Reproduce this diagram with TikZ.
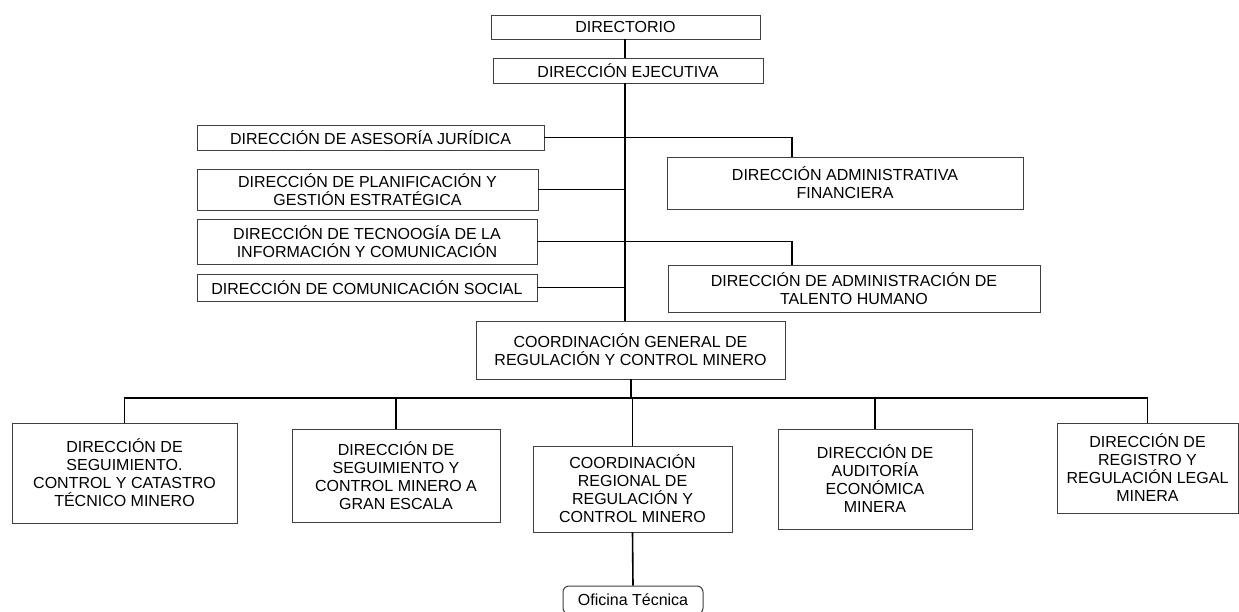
\documentclass[tikz,border=0pt]{standalone}
\usepackage{fontspec}
\setmainfont{Liberation Sans}
\begin{document}
\begin{tikzpicture}[x=1pt,y=-1pt,
  box/.style={draw=black!75, line width=0.7pt, align=center, inner sep=0pt,
    font=\fontsize{16}{18}\selectfont, text=black},
  conn/.style={draw=black, line width=1.6pt}]
\useasboundingbox[fill=white] (0,0) rectangle (1239,612);
% top
\node[box, minimum width=269, minimum height=24] (dir) at (625.5,27) {DIRECTORIO};
\node[box, minimum width=270, minimum height=25] (ejec) at (628,70.5) {DIRECCIÓN EJECUTIVA};
% staff left
\node[box, minimum width=347, minimum height=25] (jur) at (370.5,137.5) {DIRECCIÓN DE ASESORÍA JURÍDICA};
\node[box, minimum width=341, minimum height=41] (plan) at (367.5,189.5) {DIRECCIÓN DE PLANIFICACIÓN Y\\GESTIÓN ESTRATÉGICA};
\node[box, minimum width=340, minimum height=45] (tec) at (367,241.5) {DIRECCIÓN DE TECNOOGÍA DE LA\\INFORMACIÓN Y COMUNICACIÓN};
\node[box, minimum width=340, minimum height=27] (com) at (367,287.5) {DIRECCIÓN DE COMUNICACIÓN SOCIAL};
% staff right
\node[box, minimum width=356, minimum height=52] (fin) at (845,183) {DIRECCIÓN ADMINISTRATIVA\\FINANCIERA};
\node[box, minimum width=372, minimum height=47] (tal) at (854,288.5) {DIRECCIÓN DE ADMINISTRACIÓN DE\\TALENTO HUMANO};
% general coordination
\node[box, minimum width=309, minimum height=58] (cg) at (630.5,350) {COORDINACIÓN GENERAL DE\\REGULACIÓN Y CONTROL MINERO};
% bottom row
\node[box, minimum width=225, minimum height=100] (b1) at (124.5,473) {DIRECCIÓN DE\\SEGUIMIENTO.\\CONTROL Y CATASTRO\\TÉCNICO MINERO};
\node[box, minimum width=208, minimum height=93] (b2) at (396,475.5) {DIRECCIÓN DE\\SEGUIMIENTO Y\\CONTROL MINERO A\\GRAN ESCALA};
\node[box, minimum width=199, minimum height=86] (b3) at (632.5,489) {COORDINACIÓN\\REGIONAL DE\\REGULACIÓN Y\\CONTROL MINERO};
\node[box, minimum width=194, minimum height=100] (b4) at (875,479) {DIRECCIÓN DE\\AUDITORÍA\\ECONÓMICA\\MINERA};
\node[box, minimum width=181, minimum height=90] (b5) at (1147.5,468) {DIRECCIÓN DE\\REGISTRO Y\\REGULACIÓN LEGAL\\MINERA};
\node[box, rounded corners=6pt, line width=1pt, minimum width=140, minimum height=28] (of) at (633,600) {Oficina Técnica};
% helper coordinates
\coordinate (tk) at (625,0);
\coordinate (fintop) at (792,157);
\coordinate (taltop) at (792,265);
\coordinate (bar) at (631,398);
% connectors
\draw[conn] (dir.south -| tk) -- (ejec.north -| tk);
\draw[conn] (ejec.south -| tk) -- (cg.north -| tk);
\draw[conn] (jur.east) -| (fintop);
\draw[conn] (plan.east) -- (plan.east -| tk);
\draw[conn] (tec.east) -| (taltop);
\draw[conn] (com.east) -- (com.east -| tk);
\draw[conn] (cg.south -| bar) -- (bar);
\draw[conn] (b1.north) |- (b5.north |- bar) -- (b5.north);
\draw[conn] (b2.north) -- (b2.north |- bar);
\draw[conn] (b3.north) -- (b3.north |- bar);
\draw[conn] (b4.north) -- (b4.north |- bar);
\draw[conn] (b3.south) -- (of.north);
\end{tikzpicture}
\end{document}
